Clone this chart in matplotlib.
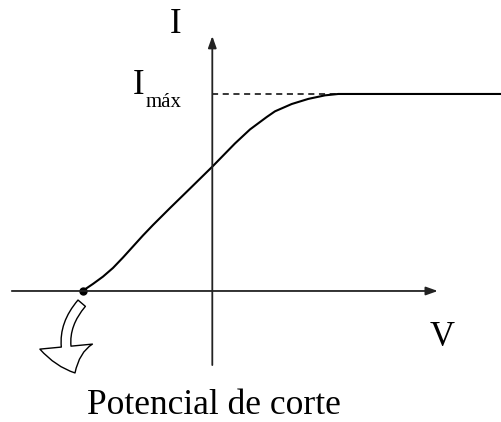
import matplotlib.pyplot as plt

# photocurrent vs. applied voltage (I_max normalised to 1)
V = [-1.298, -1.193, -1.093, -0.993, -0.893, -0.793, -0.693, -0.593, -0.423,
     -0.223, 0.0, 0.227, 0.377, 0.544, 0.627, 0.794, 0.960, 1.127,
     1.260, 2.887]
I = [0.0, 0.036, 0.073, 0.117, 0.170, 0.226, 0.282, 0.335, 0.421,
     0.520, 0.631, 0.749, 0.820, 0.883, 0.912, 0.949, 0.975, 0.993,
     1.0, 1.0]
i_max = 1.0
v_cutoff = -1.298

plt.rcParams['font.family'] = ['Liberation Serif', 'DejaVu Serif']

fig = plt.figure(figsize=(5.01, 4.22), dpi=100)
ax = fig.add_axes([0, 0, 1, 1])
ax.set_xlim(-2.123, 2.887)
ax.set_ylim(-0.665, 1.477)
ax.axis('off')

axis_style = dict(arrowstyle='-|>,head_length=0.7,head_width=0.25',
                  color='#222222', lw=1.3, shrinkA=0, shrinkB=0)
ax.annotate('', xy=(2.255, 0), xytext=(-2.005, 0), arrowprops=axis_style)
ax.annotate('', xy=(0, 1.294), xytext=(0, -0.376), arrowprops=axis_style)

# saturation level
ax.plot([0, 1.595], [i_max, i_max], color='black', lw=1.1, ls=(0, (4, 3)))

# the curve
ax.plot(V, I, color='black', lw=1.5, solid_capstyle='butt', solid_joinstyle='round')
ax.plot([v_cutoff], [0], 'o', color='black', ms=5)

# hollow arrow pointing at the cutoff voltage
ax.annotate('', xy=(-1.373, -0.416), xytext=(-1.306, -0.062),
            arrowprops=dict(arrowstyle='simple,head_length=2.0,head_width=3.8,tail_width=0.7',
                            connectionstyle='arc3,rad=0.35', mutation_scale=10,
                            fc='white', ec='black', lw=1.0,
                            shrinkA=0, shrinkB=0))

ax.text(-0.365, 1.31, 'I', fontsize=25, ha='center', va='baseline')
ax.text(-0.795, 1.0, 'I', fontsize=25, ha='left', va='baseline')
ax.text(-0.67, 0.934, 'máx', fontsize=15, ha='left', va='baseline')
ax.text(2.30, -0.279, 'V', fontsize=25, ha='center', va='baseline')
ax.text(-1.255, -0.625, 'Potencial de corte', fontsize=25.5, ha='left', va='baseline')

fig.savefig('out.png', dpi=100)
plt.close()
